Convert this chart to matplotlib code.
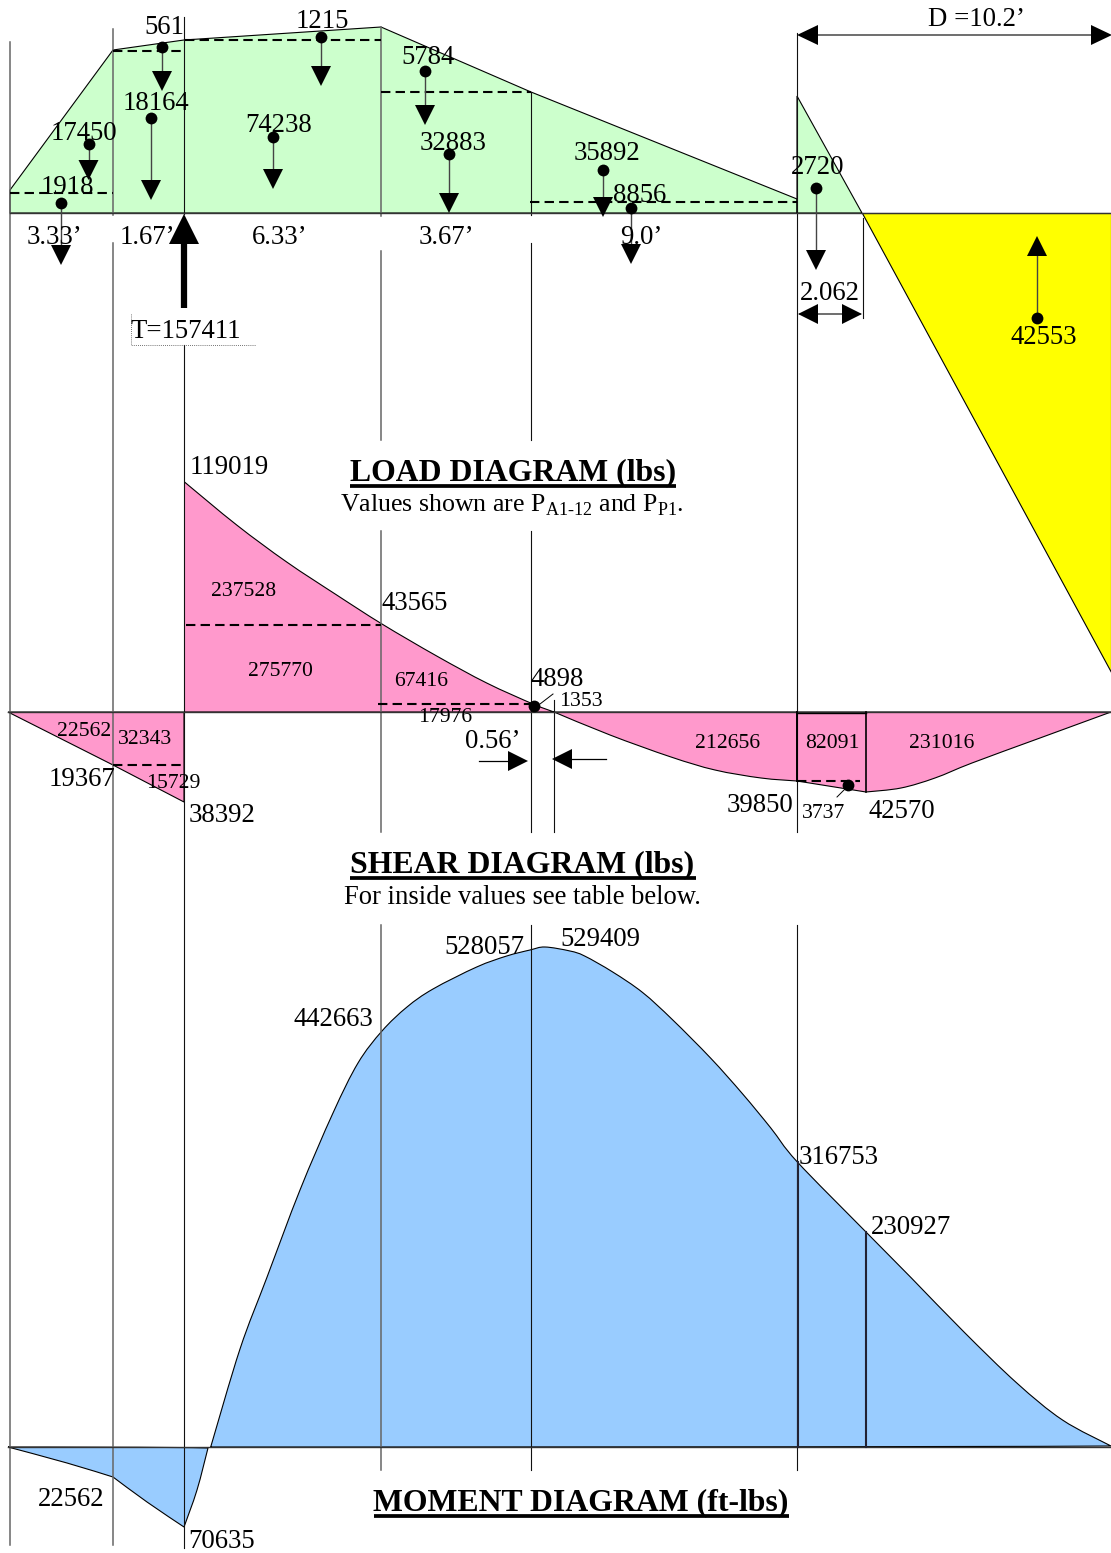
import matplotlib
matplotlib.use("Agg")
import matplotlib.pyplot as plt
from matplotlib.patches import Polygon, PathPatch
from matplotlib.path import Path

plt.rcParams['font.family'] = ['Liberation Serif', 'DejaVu Serif']
plt.rcParams['mathtext.fontset'] = 'custom'
plt.rcParams['mathtext.rm'] = 'Liberation Serif'

GREEN = '#CCFFCC'
YELLOW = '#FFFF00'
PINK = '#FF99CC'
BLUE = '#99CCFF'

# outlines (x, y in image pixels)
load_a = [(10, 190), (113, 50), (184, 40), (381, 27), (531, 92), (797, 199), (797, 213), (10, 213)]
load_b = [(797, 96), (862, 213), (797, 213)]
soil = [(862, 213), (1111, 213), (1111, 672)]
shear_left = [(8, 712), (113, 765), (184, 802), (184, 712)]

# curved outlines, each one is a list of smooth pieces with sharp corners between them
shear_top = [
    [(184.5, 482), (236.7, 525), (286.7, 562), (336.7, 595), (382, 624), (436.7, 656), (486.7, 683), (533, 704),
     (554, 712)],
    [(554, 712), (184.5, 712)],
]
shear_right = [
    [(554, 712), (610, 735), (671, 757), (715, 770), (761, 778), (797, 781)],
    [(797, 781), (866, 792)],
    [(866, 792), (901, 788), (935, 778), (972, 763), (1040, 738), (1111, 712)],
    [(1111, 712), (554, 712)],
]
moment_main = [
    [(210.7, 1447), (240, 1349), (266.7, 1278), (300, 1190), (333, 1113), (358, 1063), (382, 1031),
     (407, 1007), (433, 989), (476.7, 967), (506.7, 956), (530, 950), (545, 947), (570, 951), (584.6, 956),
     (612.7, 972), (642.6, 992.5), (672.4, 1019.6), (711, 1058.5), (742.7, 1094), (770.8, 1128), (797, 1161.6),
     (865, 1231), (911.4, 1278), (964, 1332), (1016.8, 1383), (1062.5, 1420), (1111, 1446)],
    [(1111, 1447), (210.7, 1447)],
]
moment_left = [
    [(8, 1447), (67, 1463), (113, 1477)],
    [(113, 1477), (147, 1502), (184, 1527)],
    [(184, 1527), (197, 1490), (208, 1448)],
    [(208, 1447), (8, 1447)],
]

# vertical guide lines: x, then list of (y start, y end)
guides = [
    (10, [(42, 1545)]),
    (113, [(29, 215), (243, 1545)]),
    (184, [(17, 214), (345, 1548)]),
    (381, [(27, 216), (251, 440), (531, 832), (925, 1470)]),
    (531, [(92, 215), (243, 440), (531, 832), (925, 1470)]),
    (554, [(700, 832)]),
    (797, [(33, 832), (925, 1470)]),
    (863, [(218, 318)]),
]
gray_guides = [10, 113, 381]

dashes = [
    (10, 113, 193), (113, 185, 50.5), (185, 381, 40), (381, 531, 92), (530, 797, 202),
    (186, 381, 625), (378, 531, 704), (113, 185, 765), (797, 860, 781),
]

# point loads: dot x, dot y, arrow tip y
down_loads = [
    (61, 203, 265), (88.5, 144, 180), (151, 118, 200), (162, 47, 91), (321, 37, 86), (273, 137, 189),
    (425, 71, 125), (449, 154, 213), (603, 170, 217), (631, 208, 264), (816, 188, 270),
]
up_load = (1037, 318, 236)

big_labels = [
    ('561', 164, 25), ('1215', 322, 20), ('5784', 428, 55), ('18164', 156, 101), ('17450', 84, 131),
    ('74238', 279, 123), ('32883', 453, 142), ('35892', 607, 152), ('8856', 640, 194), ('2720', 818, 166),
    ('1918', 67, 186), ('42553', 1044, 336),
    ('3.33’', 55, 236), ('1.67’', 147, 236), ('6.33’', 280, 236), ('3.67’', 446, 236), ('9.0’', 641, 236),
    ('2.062', 830, 292), ('D =10.2’', 977, 18), ('T=157411', 186, 329),
    ('119019', 229, 465), ('43565', 415, 602), ('4898', 557, 677), ('19367', 82, 778), ('38392', 222, 813),
    ('39850', 760, 803), ('42570', 902, 809), ('0.56’', 493, 740),
    ('528057', 484, 945), ('529409', 600, 938), ('442663', 333, 1018), ('316753', 839, 1155),
    ('230927', 911, 1226), ('22562', 71, 1498), ('70635', 222, 1540),
]
small_labels = [
    ('237528', 244, 590), ('275770', 280, 669), ('67416', 421, 679), ('17976', 445, 715), ('22562', 84, 730),
    ('32343', 145, 738), ('15729', 173, 781), ('1353', 581, 700), ('212656', 728, 742), ('82091', 832, 742),
    ('231016', 942, 741), ('3737', 824, 812),
]
titles = [
    ('LOAD DIAGRAM (lbs)', 513, 471, 350, 676), ('SHEAR DIAGRAM (lbs)', 522, 863, 350, 696),
    ('MOMENT DIAGRAM (ft-lbs)', 581, 1501, 374, 789),
]
notes = [
    (r'Values shown are P$_{\text{A1-12}}$ and P$_{\text{P1}}$.', 512, 503, 18.6),
    ('For inside values see table below.', 522, 896, 19.2),
]

fig = plt.figure(figsize=(11.11, 15.53), dpi=100)
ax = fig.add_axes([0, 0, 1, 1])
ax.set_xlim(0, 1111)
ax.set_ylim(1553, 0)
ax.axis('off')


def area(points, color):
    ax.add_patch(Polygon(points, closed=True, facecolor=color, edgecolor='black', linewidth=0.8, zorder=1))


def smooth_area(pieces, color):
    # Catmull-Rom through the read points, drawn as bezier segments
    verts = [pieces[0][0]]
    codes = [Path.MOVETO]
    for pts in pieces:
        for i in range(len(pts) - 1):
            p0 = pts[max(i - 1, 0)]
            p1 = pts[i]
            p2 = pts[i + 1]
            p3 = pts[min(i + 2, len(pts) - 1)]
            c1 = (p1[0] + (p2[0] - p0[0]) / 6, p1[1] + (p2[1] - p0[1]) / 6)
            c2 = (p2[0] - (p3[0] - p1[0]) / 6, p2[1] - (p3[1] - p1[1]) / 6)
            verts += [c1, c2, p2]
            codes += [Path.CURVE4] * 3
    ax.add_patch(PathPatch(Path(verts, codes), facecolor=color, edgecolor='black', linewidth=0.8, zorder=1))


def tri(tip_x, tip_y, dx, dy, half=10):
    # filled head pointing at the tip, dx/dy leads back to the base
    if dx:
        pts = [(tip_x, tip_y), (tip_x + dx, tip_y - half), (tip_x + dx, tip_y + half)]
    else:
        pts = [(tip_x, tip_y), (tip_x - half, tip_y + dy), (tip_x + half, tip_y + dy)]
    ax.add_patch(Polygon(pts, facecolor='black', edgecolor='none', zorder=5))


for pts, col in [(load_a, GREEN), (load_b, GREEN), (soil, YELLOW), (shear_left, PINK)]:
    area(pts, col)
for pieces, col in [(shear_top, PINK), (shear_right, PINK), (moment_main, BLUE), (moment_left, BLUE)]:
    smooth_area(pieces, col)

for x, spans in guides:
    for y0, y1 in spans:
        if x in gray_guides:
            ax.plot([x, x], [y0, y1], color='#666666', lw=1.1, zorder=3)
        else:
            ax.plot([x, x], [y0, y1], color='#111111', lw=0.8, zorder=3)

# base lines of the three diagrams
for y, x0, x1 in [(213, 10, 1111), (712, 8, 1111), (1447, 8, 1111)]:
    ax.plot([x0, x1], [y, y], color='#333333', lw=1.0, zorder=3)

for x0, x1, y in dashes:
    ax.plot([x0, x1], [y, y], color='black', lw=1.5, dashes=(4.5, 2.5), zorder=4)

for x, y, tip in down_loads:
    ax.plot([x, x], [y, tip - 18], color='#444444', lw=1.0, zorder=4)
    tri(x, tip, 0, -20)
    ax.plot(x, y, 'o', color='black', ms=8.5, mew=0, zorder=6)
x, y, tip = up_load
ax.plot([x, x], [y, tip + 18], color='#444444', lw=1.0, zorder=4)
tri(x, tip, 0, 20)
ax.plot(x, y, 'o', color='black', ms=8.5, mew=0, zorder=6)

# tie force arrow
ax.plot([184, 184], [243, 308], color='black', lw=4.5, solid_capstyle='butt', zorder=5)
tri(184, 214, 0, 30, half=15)
ax.plot([131, 131, 256], [314, 345, 345], color='#444444', lw=0.6, ls=(0, (1, 1.5)), zorder=3)

# dimension arrows
ax.plot([800, 1108], [35, 35], color='#555555', lw=1.2, zorder=4)
tri(797, 35, 21, 0)
tri(1112, 35, -21, 0)
ax.plot([800, 860], [314, 314], color='#555555', lw=1.2, zorder=4)
tri(798, 314, 20, 0)
tri(862, 314, -20, 0)
ax.plot([479, 510], [761, 761], color='black', lw=0.9, zorder=4)
tri(528, 761, -20, 0)
ax.plot([570, 606], [759, 759], color='black', lw=0.9, zorder=4)
tri(552, 759, 20, 0)

# shear extras
ax.plot([797, 797], [712, 781], color='black', lw=1.4, zorder=4)
ax.plot([866, 866], [712, 792], color='black', lw=1.2, zorder=4)
ax.plot([797, 866], [712.5, 712.5], color='black', lw=1.0, zorder=4)
ax.plot(534, 706, 'o', color='black', ms=8.5, mew=0, zorder=6)
ax.plot(848, 785, 'o', color='black', ms=8.5, mew=0, zorder=6)
ax.plot([540, 553], [704, 694], color='black', lw=0.7, zorder=4)
ax.plot([847, 837], [787, 797], color='black', lw=0.7, zorder=4)

# moment section lines
ax.plot([798, 798], [1162, 1447], color='#222233', lw=1.5, zorder=4)
ax.plot([865.5, 865.5], [1232, 1447], color='#222233', lw=1.5, zorder=4)

for s, x, y in big_labels:
    ax.text(x, y + 2, s, fontsize=19.3, ha='center', va='center', zorder=7)
for s, x, y in small_labels:
    ax.text(x, y + 2, s, fontsize=15.6, ha='center', va='center', zorder=7)
for s, x, y, u0, u1 in titles:
    ax.text(x, y + 2, s, fontsize=22.9, fontweight='bold', ha='center', va='center', zorder=7)
    ax.plot([u0, u1], [y + 14.5, y + 14.5], color='black', lw=2.7, solid_capstyle='butt', zorder=7)
for s, x, y, size in notes:
    ax.text(x, y + 2, s, fontsize=size, ha='center', va='center', zorder=7)

fig.savefig('out.png', dpi=100)
